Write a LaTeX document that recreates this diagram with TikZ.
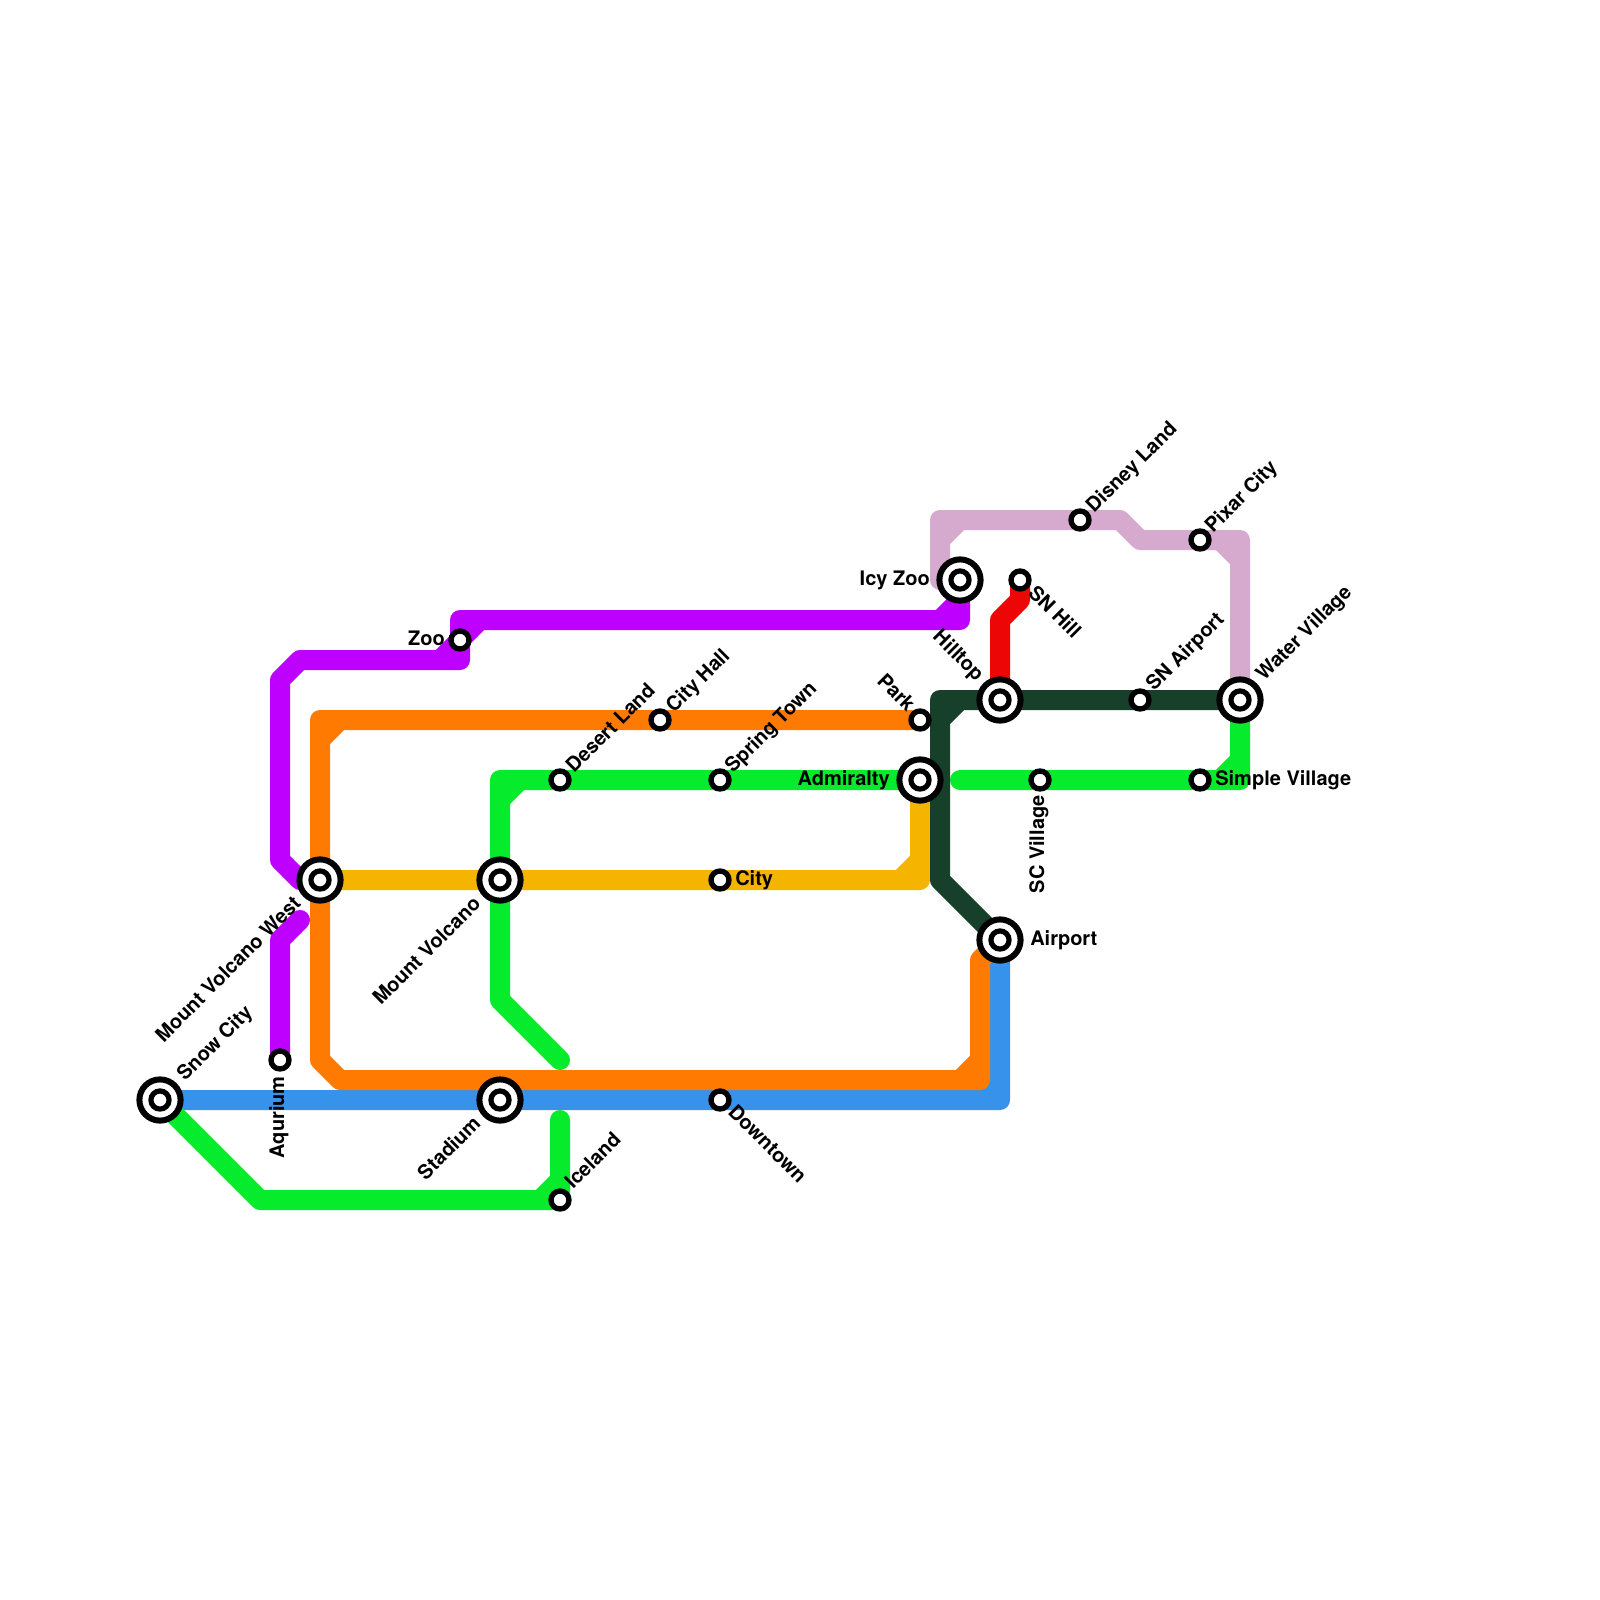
\documentclass[tikz,border=0pt]{standalone}
\usepackage{fontspec}
\setmainfont{TeX Gyre Heros}
\definecolor{cOrange}{HTML}{FF7A00}
\definecolor{cPurple}{HTML}{BD00FF}
\definecolor{cGreen}{HTML}{06EC2D}
\definecolor{cBlue}{HTML}{3792EB}
\definecolor{cYellow}{HTML}{F5B400}
\definecolor{cDark}{HTML}{17402B}
\definecolor{cPink}{HTML}{D6A9CE}
\definecolor{cRed}{HTML}{EC0606}
\pgfdeclarelayer{lines}
\pgfsetlayers{lines,main}
\tikzset{
  x=0.75pt,y=-0.75pt,
  metro/.style={line width=15pt,line cap=round,line join=round},
  bigst/.style={circle,draw=black,fill=white,line width=4.5pt,minimum size=30.9pt,inner sep=0pt,outer sep=0pt,
    path picture={\draw[black,line width=3.9pt] (path picture bounding box.center) circle (6.8pt);}},
  smallst/.style={circle,draw=black,fill=white,line width=4pt,minimum size=13.5pt,inner sep=0pt,outer sep=0pt},
  lab/.style={font=\fontsize{15pt}{18pt}\selectfont\bfseries,inner sep=0pt,text=black},
  labR/.style={lab,anchor=base west},
  labL/.style={lab,anchor=base east},
  labUR/.style={lab,anchor=base west,rotate=45},
  labDL/.style={lab,anchor=base east,rotate=45},
  labDR/.style={lab,anchor=base west,rotate=-45},
  labUL/.style={lab,anchor=base east,rotate=-45},
  labV/.style={lab,anchor=base east,rotate=90},
}
\begin{document}
\begin{tikzpicture}
\useasboundingbox (0,0) rectangle (1600,1600);
% stations
\node[bigst] (snow) at (160,1100) {};
\node[bigst] (stadium) at (500,1100) {};
\node[bigst] (mvw) at (320,880) {};
\node[bigst] (mv) at (500,880) {};
\node[bigst] (admiralty) at (920,780) {};
\node[bigst] (icyzoo) at (960,580) {};
\node[bigst] (hilltop) at (1000,700) {};
\node[bigst] (airport) at (1000,940) {};
\node[bigst] (water) at (1240,700) {};
\node[smallst] (aquarium) at (280,1060) {};
\node[smallst] (zoo) at (460,640) {};
\node[smallst] (desert) at (560,780) {};
\node[smallst] (cityhall) at (660,720) {};
\node[smallst] (spring) at (720,780) {};
\node[smallst] (city) at (720,880) {};
\node[smallst] (downtown) at (720,1100) {};
\node[smallst] (iceland) at (560,1200) {};
\node[smallst] (park) at (920,720) {};
\node[smallst] (snhill) at (1020,580) {};
\node[smallst] (disney) at (1080,520) {};
\node[smallst] (pixar) at (1200,540) {};
\node[smallst] (snairport) at (1140,700) {};
\node[smallst] (scvillage) at (1040,780) {};
\node[smallst] (simple) at (1200,780) {};
% labels
\node[labUR] (tSnow) at (185,1082) {Snow City};
\node[labDL] (tStadium) at (482,1125) {Stadium};
\node[labDL] (tMvw) at (302,905) {Mount Volcano West};
\node[labDL] (tMv) at (482,905) {Mount Volcano};
\node[labUL] (tHilltop) at (976,682) {Hilltop};
\node[labL] (tAdmiralty) at (890,785) {Admiralty};
\node[labL] (tIcy) at (930,585) {Icy Zoo};
\node[labR] (tAirport) at (1030,945) {Airport};
\node[labUR] (tWater) at (1264,682) {Water Village};
\node[labV] (tAq) at (284,1076) {Aqurium};
\node[labL] (tZoo) at (445,645) {Zoo};
\node[labUR] (tDesert) at (574,774) {Desert Land};
\node[labUR] (tHall) at (674,714) {City Hall};
\node[labUR] (tSpring) at (733,774) {Spring Town};
\node[labR] (tCity) at (735,885) {City};
\node[labDR] (tDown) at (727,1113) {Downtown};
\node[labUR] (tIce) at (573,1190) {Iceland};
\node[labUL] (tPark) at (907,713) {Park};
\node[labDR] (tHill) at (1027,594) {SN Hill};
\node[labUR] (tDisney) at (1094,514) {Disney Land};
\node[labUR] (tPixar) at (1213,534) {Pixar City};
\node[labUR] (tSna) at (1154,692) {SN Airport};
\node[labV] (tSc) at (1044,795) {SC Village};
\node[labR] (tSimple) at (1215,785) {Simple Village};
% bend points
\coordinate (bA) at (1000,1100);\coordinate (bC) at (980,1100);\coordinate (bD) at (1000,1080);
\coordinate (bBa) at (980,1080);\coordinate (bBb) at (960,1080);\coordinate (bBc) at (980,1060);
\coordinate (bBd) at (980,960);
\coordinate (oA) at (340,1080);\coordinate (oB) at (320,1060);\coordinate (oC) at (320,720);
\coordinate (oD) at (320,740);\coordinate (oE) at (340,720);
\coordinate (pA) at (300,880);\coordinate (pB) at (280,860);\coordinate (pC) at (280,680);\coordinate (pD) at (300,660);
\coordinate (pE) at (460,660);\coordinate (pF) at (460,620);\coordinate (pG) at (960,620);
\coordinate (pH) at (440,660);\coordinate (pI) at (460,640);\coordinate (pJ) at (480,620);
\coordinate (pK) at (940,620);\coordinate (pL) at (960,600);
\coordinate (qA) at (280,940);\coordinate (qB) at (300,920);
\coordinate (yA) at (920,880);\coordinate (yB) at (900,880);\coordinate (yC) at (920,860);
\coordinate (gA) at (500,780);\coordinate (gB) at (500,1000);\coordinate (gC) at (560,1060);
\coordinate (gD) at (500,800);\coordinate (gE) at (520,780);
\coordinate (hA) at (260,1200);\coordinate (hB) at (560,1120);\coordinate (hC) at (540,1200);\coordinate (hD) at (560,1180);
\coordinate (jA) at (1240,780);\coordinate (jB) at (960,780);\coordinate (jC) at (1220,780);\coordinate (jD) at (1240,760);
\coordinate (dA) at (940,880);\coordinate (dB) at (940,700);\coordinate (dC) at (940,720);\coordinate (dD) at (960,700);
\coordinate (kA) at (940,580);\coordinate (kB) at (940,520);\coordinate (kC) at (1120,520);\coordinate (kD) at (1140,540);
\coordinate (kE) at (1240,540);\coordinate (kF) at (940,540);\coordinate (kG) at (960,520);\coordinate (kH) at (1220,540);\coordinate (kI) at (1240,560);
\coordinate (rA) at (1020,600);\coordinate (rB) at (1000,620);
\begin{pgfonlayer}{lines}
\draw[metro,cBlue] (snow.center) -- (bA) -- (airport.center) (bC) -- (bD);
\draw[metro,cOrange] (park.center) -- (oC) -- (oB) -- (oA) -- (bBa) -- (bBd) -- (airport.center)
   (oD) -- (oE) (bBb) -- (bBc);
\draw[metro,cPurple] (mvw.center) -- (pA) -- (pB) -- (pC) -- (pD) -- (pE) -- (pF) -- (pG) -- (icyzoo.center)
   (pH) -- (pI) -- (pJ) (pK) -- (pL);
\draw[metro,cPurple] (aquarium.center) -- (qA) -- (qB);
\draw[metro,cYellow] (mvw.center) -- (yA) -- (admiralty.center) (yB) -- (yC);
\draw[metro,cGreen] (admiralty.center) -- (gA) -- (gB) -- (gC) (gD) -- (gE);
\draw[metro,cGreen] (snow.center) -- (hA) -- (iceland.center) -- (hC) (iceland.center) -- (hB) (hC) -- (hD);
\draw[metro,cGreen] (water.center) -- (jA) -- (jB) (jC) -- (jD);
\draw[metro,cDark] (airport.center) -- (dA) -- (dB) -- (water.center) (dC) -- (dD);
\draw[metro,cPink] (icyzoo.center) -- (kA) -- (kB) -- (kC) -- (kD) -- (kE) -- (water.center) (kF) -- (kG) (kH) -- (kI);
\draw[metro,cRed] (snhill.center) -- (rA) -- (rB) -- (hilltop.center);
\end{pgfonlayer}
\end{tikzpicture}
\end{document}
